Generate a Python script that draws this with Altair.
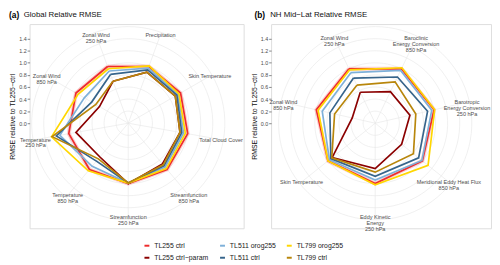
import altair as alt
import pandas as pd

# ---------------- data ----------------
models = ["TL255 ctrl", "TL255 ctrl−param", "TL511 orog255", "TL511 ctrl", "TL799 orog255", "TL799 ctrl"]
model_colors = ["#EE2C2C", "#8B0000", "#7EB0D9", "#36648B", "#FFD700", "#B8860B"]
legend_order = ["TL255 ctrl", "TL511 orog255", "TL799 orog255", "TL255 ctrl−param", "TL511 ctrl", "TL799 ctrl"]

axes_a = ["Zonal Wind\n250 hPa", "Precipitation", "Skin Temperature", "Total Cloud Cover",
          "Streamfunction\n850 hPa", "Streamfunction\n250 hPa", "Temperature\n850 hPa",
          "Temperature\n250 hPa", "Zonal Wind\n850 hPa"]
a_tl255_ctrl = [1.00, 1.00, 1.00, 1.00, 1.00, 1.00, 1.00, 1.00, 1.00]
a_tl255_param = [0.74, 0.90, 0.90, 0.87, 0.88, 1.00, 0.73, 0.88, 0.55]
a_tl511_orog = [0.92, 0.97, 0.95, 0.93, 0.95, 0.99, 0.93, 1.15, 0.84]
a_tl511_ctrl = [0.86, 0.94, 0.93, 0.90, 0.92, 0.99, 0.82, 1.21, 0.70]
a_tl799_orog = [0.96, 1.01, 0.97, 0.96, 0.98, 0.99, 1.03, 1.29, 0.96]
a_tl799_ctrl = [0.74, 0.90, 0.90, 0.87, 0.90, 0.99, 0.77, 1.28, 0.62]

axes_b = ["Zonal Wind\n250 hPa", "Baroclinic\nEnergy Conversion\n850 hPa",
          "Barotropic\nEnergy Conversion\n250 hPa", "Meridional Eddy Heat Flux\n850 hPa",
          "Eddy Kinetic\nEnergy\n250 hPa", "Skin Temperature", "Zonal Wind\n850 hPa"]
b_tl255_ctrl = [1.00, 1.00, 1.00, 1.00, 1.00, 1.00, 1.00]
b_tl255_param = [0.57, 0.58, 0.59, 0.56, 0.75, 0.91, 0.39]
b_tl511_orog = [0.93, 0.97, 0.96, 0.99, 0.94, 0.97, 0.90]
b_tl511_ctrl = [0.83, 0.85, 0.89, 0.92, 0.88, 0.94, 0.77]
b_tl799_orog = [0.98, 1.02, 1.01, 1.12, 1.02, 1.00, 0.97]
b_tl799_ctrl = [0.70, 0.76, 0.69, 0.81, 0.81, 0.92, 0.69]

rings = [0.2, 0.4, 0.6, 0.8, 1.0, 1.2, 1.4, 1.6]
y_ticks = [0.0, 0.2, 0.4, 0.6, 0.8, 1.0, 1.2, 1.4]

PX = 61.5  # pixels per unit, equal on both axes
Y_DOM = [-1.74, 1.642]
FONT = "Liberation Sans"
legend_colors = [model_colors[models.index(m)] for m in legend_order]


def series_table(axes, series):
    n = len(axes)
    rows = []
    for m, vals in zip(models, series):
        for i in range(n + 1):
            rows.append({"model": m, "idx": i, "value": vals[i % n], "n": n})
    return pd.DataFrame(rows)


def panel(axes, series, xdom, tag, title):
    n = len(axes)
    width = (xdom[1] - xdom[0]) * PX
    height = (Y_DOM[1] - Y_DOM[0]) * PX
    xs = alt.Scale(domain=xdom, nice=False, zero=False)
    ys = alt.Scale(domain=Y_DOM, nice=False, zero=False)
    yaxis = alt.Axis(values=y_ticks, format=".1f", domain=False, grid=False,
                     tickSize=2.5, tickColor="#333333", tickWidth=0.6,
                     labelFontSize=5.5, labelColor="#4D4D4D", labelPadding=1,
                     title="RMSE relative to TL255−ctrl", titleFontSize=7,
                     titleFontWeight="normal", titleColor="#111111", titlePadding=3,
                     titleY=height / 2 - 10)
    X = lambda f: alt.X(f, type="quantitative", scale=xs, axis=None)
    Y = lambda f: alt.Y(f, type="quantitative", scale=ys, axis=yaxis)

    theta = f"(2*datum.idx - 1) * PI / {n}"

    # grid circles
    grid_rows = [{"ring": r, "deg": d} for r in rings for d in range(0, 361, 4)]
    grid = alt.Chart(pd.DataFrame(grid_rows)).transform_calculate(
        x="datum.ring * sin(datum.deg * PI / 180)",
        y="datum.ring * cos(datum.deg * PI / 180)",
    ).mark_line(color="#E6E6E6", strokeWidth=0.6).encode(
        x=X("x"), y=Y("y"), detail="ring:N", order="deg:Q")

    # spokes
    spoke_df = pd.DataFrame({"idx": list(range(n))})
    spokes = alt.Chart(spoke_df).transform_calculate(
        x0="0", y0="0",
        x1=f"1.6 * sin({theta})", y1=f"1.6 * cos({theta})",
    ).mark_rule(color="#E6E6E6", strokeWidth=0.6).encode(
        x=X("x0"), y=Y("y0"), x2="x1:Q", y2="y1:Q")

    # spoke labels
    lab_df = pd.DataFrame({"idx": list(range(n)), "label": axes})
    labels = alt.Chart(lab_df).transform_calculate(
        x=f"1.56 * sin({theta})", y=f"1.56 * cos({theta})",
    ).mark_text(fontSize=5.6, lineHeight=6, color="#4D4D4D", font=FONT,
                align="center", baseline="middle", lineBreak="\n").encode(
        x=X("x"), y=Y("y"), text="label:N")

    data = series_table(axes, series)
    base = alt.Chart(data).transform_calculate(
        x=f"datum.value * sin({theta})", y=f"datum.value * cos({theta})")

    halo = base.transform_filter(alt.datum.model == models[0]).mark_line(
        strokeWidth=4, opacity=0.22, strokeJoin="round").encode(
        x=X("x"), y=Y("y"), order="idx:Q", color=alt.value(model_colors[0]))

    color = alt.Color("model:N", scale=alt.Scale(domain=legend_order, range=legend_colors),
                      legend=alt.Legend(title=None, orient="none", legendX=116, legendY=222,
                                        columns=3, direction="horizontal",
                                        symbolType="stroke", symbolStrokeWidth=2,
                                        symbolSize=25, labelFontSize=7, labelOffset=4,
                                        labelColor="#1A1A1A", labelFont=FONT,
                                        columnPadding=7, rowPadding=3.5))
    line_layers = []
    for m in models:
        line_layers.append(base.transform_filter(alt.datum.model == m).mark_line(
            strokeWidth=1.7, strokeJoin="miter").encode(
            x=X("x"), y=Y("y"), order="idx:Q", color=color))

    one = alt.Data(values=[{"k": 1}])
    t1 = alt.Chart(one).mark_text(text=tag, fontSize=8.5, fontWeight="bold", font=FONT,
                                  align="left", baseline="middle", color="#000000").encode(
        x=alt.value(title["tagx"]), y=alt.value(-9))
    t2 = alt.Chart(one).mark_text(text=title["text"], fontSize=8, font=FONT,
                                  align="left", baseline="middle", color="#111111").encode(
        x=alt.value(title["textx"]), y=alt.value(-9))

    return alt.layer(grid, spokes, labels, halo, *line_layers, t1, t2).properties(
        width=width, height=height)


pa = panel(axes_a, [a_tl255_ctrl, a_tl255_param, a_tl511_orog, a_tl511_ctrl, a_tl799_orog, a_tl799_ctrl],
           [-1.634, 1.911], "(a)", {"tagx": -21, "text": "Global Relative RMSE", "textx": -6})
pb = panel(axes_b, [b_tl255_ctrl, b_tl255_param, b_tl511_orog, b_tl511_ctrl, b_tl799_orog, b_tl799_ctrl],
           [-1.724, 1.919], "(b)", {"tagx": -17, "text": "NH Mid−Lat Relative RMSE", "textx": -1})

chart = alt.hconcat(pa, pb, spacing=5).properties(padding=0).configure_view(
    stroke=None).configure(font=FONT)

chart.save("out.html", embed_options={"renderer": "svg", "actions": False})
